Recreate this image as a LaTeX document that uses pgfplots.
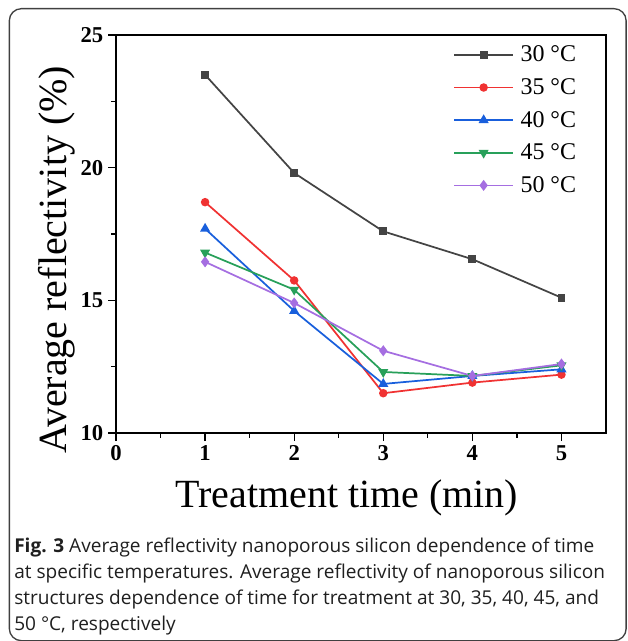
\documentclass[border=0pt]{standalone}
\usepackage{fontspec}
\setmainfont{Liberation Serif}
\newfontfamily\capfont{Open Sans}
\usepackage{pgfplots}
\pgfplotsset{compat=1.18}

\definecolor{c30}{RGB}{68,68,68}
\definecolor{c35}{RGB}{240,50,50}
\definecolor{c40}{RGB}{25,95,220}
\definecolor{c45}{RGB}{40,160,90}
\definecolor{c50}{RGB}{165,110,225}

\begin{document}
\begin{tikzpicture}
\useasboundingbox (0,0) rectangle (470.25pt,-480.75pt);
% outer frame
\draw[line width=1pt, black!75, rounded corners=9pt] (7pt,-6.5pt) rectangle (469.6pt,-480.5pt);

\begin{axis}[
  at={(87pt,-324.75pt)}, anchor=south west,
  scale only axis, width=367.5pt, height=298.5pt,
  xmin=0, xmax=5.5, ymin=10, ymax=25,
  xtick={0,1,2,3,4,5}, ytick={10,15,20,25},
  minor x tick num=1, minor y tick num=1,
  tick align=outside, tick pos=left,
  major tick length=6pt, minor tick length=3.5pt,
  axis line style={line width=1.1pt},
  every tick/.style={line width=1pt, black},
  ticklabel style={font=\bfseries\fontsize{17}{17}\selectfont},
  /pgf/number format/assume math mode=true,
  xlabel={Treatment time (min)},
  ylabel={Average reflectivity (\%)},
  label style={font=\fontsize{30}{30}\selectfont},
  xlabel style={at={(axis description cs:0.471,-0.186)}, anchor=base},
  ylabel style={at={(axis description cs:-0.102,0.435)}, anchor=base},
  legend style={at={(axis description cs:0.945,0.98)}, anchor=north east,
                draw=none, fill=none, inner sep=0pt,
                font=\fontsize{18}{18}\selectfont, row sep=7pt,
                /tikz/every odd column/.append style={column sep=3pt}},
  legend cell align=left,
  legend image code/.code={\draw[mark repeat=2,mark phase=2]
      plot coordinates {(0pt,0pt) (22pt,0pt) (44pt,0pt)};},
]
\addplot[c30, line width=1.3pt, mark=square*, mark size=2.3pt, mark options={solid, fill=c30}]
  coordinates {(1,23.5) (2,19.8) (3,17.6) (4,16.55) (5,15.1)};
\addlegendentry{30 °C}
\addplot[c35, line width=1.3pt, mark=*, mark size=2.5pt, mark options={solid, fill=c35}]
  coordinates {(1,18.7) (2,15.75) (3,11.5) (4,11.9) (5,12.2)};
\addlegendentry{35 °C}
\addplot[c40, line width=1.3pt, mark=triangle*, mark size=3.1pt, mark options={solid, fill=c40}]
  coordinates {(1,17.7) (2,14.6) (3,11.85) (4,12.15) (5,12.4)};
\addlegendentry{40 °C}
\addplot[c45, line width=1.3pt, mark=triangle*, mark size=3.1pt, mark options={solid, fill=c45, rotate=180}]
  coordinates {(1,16.8) (2,15.4) (3,12.3) (4,12.15) (5,12.55)};
\addlegendentry{45 °C}
\addplot[c50, line width=1.3pt, mark=diamond*, mark size=3.1pt, mark options={solid, fill=c50}]
  coordinates {(1,16.45) (2,14.9) (3,13.1) (4,12.15) (5,12.6)};
\addlegendentry{50 °C}
\end{axis}

% caption
\begin{scope}[every node/.style={anchor=base west, inner sep=0pt, text=black!88,
    font=\capfont\fontsize{14.3}{17}\selectfont}]
\node at (10.5pt,-414pt) {\textbf{Fig. 3} Average reflectivity nanoporous silicon dependence of time};
\node at (10.5pt,-433.5pt) {at specific temperatures. Average reflectivity of nanoporous silicon};
\node at (10.5pt,-453pt) {structures dependence of time for treatment at 30, 35, 40, 45, and};
\node at (10.5pt,-472.5pt) {50 °C, respectively};
\end{scope}
\end{tikzpicture}
\end{document}
